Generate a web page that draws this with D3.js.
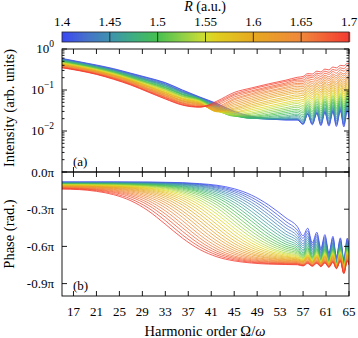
<!DOCTYPE html>
<html><head><meta charset="utf-8">
<script src="https://cdn.jsdelivr.net/npm/d3@7"></script>
<style>
html,body{margin:0;padding:0;background:#fff;}
svg{display:block;}
svg text{font-family:"Liberation Serif","Times New Roman",serif;}
</style></head><body>
<svg id="c" width="358" height="338"></svg>
<script>
// R values (one curve each)
const rValues = [1.40,1.41,1.42,1.43,1.44,1.45,1.46,1.47,1.48,1.49,1.50,1.51,1.52,1.53,1.54,1.55,1.56,1.57,1.58,1.59,1.60,1.61,1.62,1.63,1.64,1.65,1.66,1.67,1.68,1.69,1.70];
// harmonic orders sampled
const harmonics = [15,18,21,24,27,30,33,36,39,42,45,48,51,54,56,57,57.8,58.6,59.4,60.1,60.8,61.5,62.2,62.8,63.5,64.1,64.7,65];
// log10 intensity: one row per harmonic, one column per R
const logIntensity = [
[-.23,-.24,-.25,-.25,-.26,-.27,-.28,-.28,-.29,-.30,-.31,-.31,-.32,-.33,-.34,-.35,-.35,-.36,-.37,-.38,-.38,-.39,-.40,-.41,-.41,-.42,-.43,-.44,-.45,-.45,-.46],
[-.31,-.32,-.32,-.33,-.34,-.35,-.35,-.36,-.37,-.38,-.38,-.39,-.40,-.41,-.41,-.42,-.43,-.43,-.44,-.45,-.46,-.46,-.47,-.48,-.49,-.49,-.50,-.51,-.52,-.52,-.53],
[-.39,-.40,-.41,-.41,-.42,-.43,-.44,-.44,-.45,-.46,-.47,-.47,-.48,-.49,-.50,-.51,-.51,-.52,-.53,-.54,-.54,-.55,-.56,-.57,-.57,-.58,-.59,-.60,-.61,-.61,-.62],
[-.48,-.49,-.50,-.51,-.51,-.52,-.53,-.54,-.55,-.56,-.57,-.58,-.58,-.59,-.60,-.61,-.62,-.63,-.64,-.64,-.65,-.66,-.67,-.68,-.69,-.70,-.70,-.71,-.72,-.73,-.74],
[-.59,-.60,-.61,-.62,-.63,-.64,-.65,-.66,-.67,-.68,-.69,-.70,-.71,-.72,-.73,-.74,-.75,-.75,-.76,-.77,-.78,-.79,-.80,-.81,-.82,-.83,-.84,-.85,-.86,-.87,-.88],
[-.70,-.71,-.72,-.74,-.75,-.76,-.77,-.78,-.79,-.81,-.82,-.83,-.84,-.85,-.86,-.88,-.89,-.90,-.91,-.92,-.93,-.95,-.96,-.97,-.98,-.99,-1.00,-1.02,-1.03,-1.04,-1.05],
[-.82,-.83,-.85,-.86,-.87,-.89,-.90,-.91,-.93,-.94,-.95,-.97,-.98,-.99,-1.01,-1.02,-1.03,-1.05,-1.06,-1.07,-1.09,-1.10,-1.11,-1.13,-1.14,-1.15,-1.17,-1.18,-1.19,-1.21,-1.22],
[-1.00,-1.01,-1.03,-1.04,-1.05,-1.06,-1.07,-1.09,-1.10,-1.11,-1.12,-1.14,-1.15,-1.16,-1.17,-1.19,-1.20,-1.21,-1.22,-1.23,-1.25,-1.26,-1.27,-1.28,-1.30,-1.31,-1.32,-1.33,-1.35,-1.36,-1.37],
[-1.17,-1.18,-1.18,-1.19,-1.20,-1.20,-1.21,-1.22,-1.22,-1.23,-1.24,-1.24,-1.25,-1.26,-1.27,-1.28,-1.29,-1.30,-1.31,-1.32,-1.33,-1.34,-1.35,-1.36,-1.37,-1.38,-1.39,-1.40,-1.41,-1.41,-1.42],
[-1.33,-1.34,-1.36,-1.37,-1.38,-1.40,-1.41,-1.42,-1.44,-1.45,-1.46,-1.48,-1.49,-1.50,-1.51,-1.52,-1.52,-1.53,-1.53,-1.52,-1.51,-1.50,-1.48,-1.46,-1.44,-1.42,-1.39,-1.36,-1.33,-1.30,-1.27],
[-1.52,-1.53,-1.55,-1.56,-1.57,-1.59,-1.60,-1.61,-1.62,-1.63,-1.63,-1.64,-1.63,-1.62,-1.60,-1.58,-1.55,-1.53,-1.50,-1.47,-1.44,-1.40,-1.36,-1.32,-1.28,-1.24,-1.21,-1.17,-1.13,-1.10,-1.06],
[-1.64,-1.65,-1.66,-1.67,-1.68,-1.68,-1.69,-1.69,-1.69,-1.68,-1.66,-1.64,-1.62,-1.59,-1.56,-1.52,-1.48,-1.44,-1.40,-1.36,-1.32,-1.28,-1.24,-1.20,-1.16,-1.12,-1.09,-1.05,-1.02,-.98,-.95],
[-1.70,-1.70,-1.71,-1.71,-1.71,-1.70,-1.70,-1.69,-1.67,-1.65,-1.62,-1.59,-1.55,-1.51,-1.47,-1.43,-1.39,-1.34,-1.30,-1.26,-1.21,-1.17,-1.13,-1.09,-1.05,-1.02,-.98,-.95,-.92,-.88,-.85],
[-1.73,-1.73,-1.72,-1.72,-1.71,-1.70,-1.68,-1.66,-1.63,-1.59,-1.55,-1.51,-1.47,-1.43,-1.38,-1.34,-1.30,-1.25,-1.21,-1.17,-1.12,-1.08,-1.04,-1.00,-.96,-.93,-.89,-.86,-.83,-.79,-.76],
[-1.73,-1.73,-1.72,-1.71,-1.70,-1.68,-1.65,-1.62,-1.59,-1.55,-1.51,-1.47,-1.42,-1.38,-1.33,-1.29,-1.25,-1.20,-1.16,-1.12,-1.07,-1.03,-.99,-.95,-.91,-.87,-.84,-.80,-.76,-.73,-.69],
[-1.84,-1.83,-1.82,-1.81,-1.78,-1.76,-1.73,-1.69,-1.65,-1.61,-1.56,-1.52,-1.47,-1.42,-1.38,-1.33,-1.28,-1.24,-1.19,-1.14,-1.10,-1.05,-1.01,-.96,-.92,-.88,-.84,-.80,-.76,-.71,-.67],
[-1.59,-1.59,-1.58,-1.58,-1.56,-1.53,-1.51,-1.48,-1.45,-1.42,-1.38,-1.35,-1.31,-1.27,-1.23,-1.19,-1.15,-1.11,-1.07,-1.03,-.99,-.95,-.91,-.88,-.84,-.80,-.76,-.72,-.68,-.64,-.60],
[-1.85,-1.83,-1.82,-1.80,-1.77,-1.74,-1.71,-1.67,-1.63,-1.59,-1.54,-1.50,-1.45,-1.40,-1.35,-1.30,-1.25,-1.21,-1.16,-1.11,-1.07,-1.02,-.98,-.93,-.89,-.84,-.80,-.75,-.70,-.66,-.61],
[-1.57,-1.56,-1.55,-1.54,-1.52,-1.49,-1.47,-1.44,-1.41,-1.38,-1.34,-1.30,-1.26,-1.22,-1.18,-1.14,-1.10,-1.07,-1.03,-.99,-.95,-.91,-.87,-.84,-.80,-.76,-.72,-.68,-.63,-.59,-.54],
[-1.87,-1.85,-1.82,-1.80,-1.76,-1.73,-1.69,-1.65,-1.61,-1.57,-1.52,-1.47,-1.42,-1.37,-1.33,-1.28,-1.23,-1.18,-1.13,-1.08,-1.04,-.99,-.94,-.90,-.85,-.81,-.76,-.72,-.67,-.61,-.56],
[-1.55,-1.54,-1.52,-1.51,-1.48,-1.46,-1.43,-1.40,-1.36,-1.33,-1.29,-1.26,-1.22,-1.18,-1.15,-1.11,-1.07,-1.03,-.99,-.95,-.91,-.87,-.83,-.80,-.76,-.72,-.68,-.64,-.59,-.54,-.49],
[-1.88,-1.85,-1.83,-1.80,-1.76,-1.72,-1.68,-1.63,-1.59,-1.54,-1.49,-1.45,-1.40,-1.35,-1.30,-1.25,-1.20,-1.15,-1.10,-1.05,-1.01,-.96,-.91,-.87,-.82,-.77,-.73,-.68,-.62,-.57,-.51],
[-1.53,-1.51,-1.50,-1.48,-1.45,-1.42,-1.39,-1.36,-1.32,-1.29,-1.25,-1.22,-1.18,-1.14,-1.11,-1.07,-1.03,-1.00,-.96,-.92,-.88,-.84,-.80,-.77,-.73,-.69,-.65,-.61,-.55,-.50,-.44],
[-1.89,-1.86,-1.82,-1.79,-1.75,-1.70,-1.66,-1.61,-1.57,-1.52,-1.47,-1.43,-1.38,-1.33,-1.28,-1.23,-1.18,-1.13,-1.08,-1.03,-.98,-.93,-.88,-.84,-.79,-.74,-.70,-.65,-.59,-.52,-.46],
[-1.51,-1.49,-1.47,-1.45,-1.42,-1.39,-1.36,-1.33,-1.29,-1.26,-1.22,-1.18,-1.14,-1.10,-1.07,-1.03,-.99,-.96,-.92,-.88,-.85,-.81,-.77,-.74,-.70,-.66,-.61,-.57,-.51,-.46,-.40],
[-1.90,-1.86,-1.83,-1.79,-1.74,-1.70,-1.65,-1.60,-1.55,-1.50,-1.45,-1.40,-1.35,-1.30,-1.25,-1.20,-1.15,-1.10,-1.05,-1.00,-.96,-.91,-.86,-.81,-.76,-.71,-.66,-.61,-.54,-.48,-.41],
[-1.50,-1.47,-1.45,-1.42,-1.39,-1.36,-1.33,-1.29,-1.26,-1.22,-1.18,-1.15,-1.11,-1.07,-1.04,-1.00,-.96,-.93,-.89,-.85,-.82,-.78,-.74,-.71,-.67,-.63,-.58,-.54,-.48,-.41,-.35],
[-1.70,-1.67,-1.63,-1.60,-1.56,-1.52,-1.48,-1.44,-1.39,-1.35,-1.31,-1.26,-1.22,-1.18,-1.13,-1.09,-1.05,-1.00,-.96,-.92,-.87,-.83,-.79,-.74,-.70,-.65,-.61,-.56,-.49,-.43,-.36]
];
// phase in units of pi: one row per harmonic, one column per R
const phasePi = [
[-.080,-.082,-.083,-.085,-.087,-.088,-.090,-.092,-.093,-.095,-.097,-.098,-.100,-.102,-.103,-.105,-.107,-.108,-.110,-.112,-.114,-.116,-.118,-.120,-.122,-.124,-.126,-.128,-.131,-.134,-.138],
[-.080,-.082,-.083,-.085,-.087,-.088,-.090,-.092,-.093,-.095,-.097,-.098,-.100,-.102,-.104,-.105,-.107,-.109,-.111,-.113,-.115,-.117,-.119,-.122,-.124,-.127,-.129,-.132,-.135,-.138,-.142],
[-.080,-.082,-.083,-.085,-.087,-.088,-.090,-.092,-.094,-.095,-.097,-.099,-.101,-.103,-.105,-.107,-.109,-.111,-.113,-.116,-.118,-.120,-.123,-.126,-.130,-.133,-.137,-.141,-.145,-.150,-.156],
[-.080,-.082,-.083,-.085,-.087,-.088,-.090,-.092,-.094,-.096,-.099,-.100,-.102,-.104,-.107,-.109,-.112,-.114,-.117,-.120,-.124,-.127,-.131,-.135,-.140,-.145,-.151,-.158,-.165,-.174,-.183],
[-.081,-.082,-.084,-.086,-.088,-.090,-.092,-.094,-.096,-.098,-.101,-.103,-.106,-.108,-.111,-.114,-.118,-.121,-.125,-.129,-.134,-.140,-.146,-.153,-.161,-.170,-.179,-.190,-.202,-.217,-.232],
[-.081,-.083,-.085,-.087,-.090,-.092,-.094,-.097,-.099,-.102,-.105,-.108,-.111,-.115,-.120,-.124,-.129,-.134,-.141,-.148,-.156,-.165,-.175,-.187,-.200,-.214,-.230,-.248,-.267,-.289,-.312],
[-.083,-.085,-.088,-.090,-.093,-.095,-.099,-.102,-.105,-.109,-.113,-.118,-.123,-.129,-.136,-.144,-.152,-.162,-.172,-.184,-.197,-.212,-.229,-.247,-.267,-.289,-.313,-.338,-.364,-.392,-.421],
[-.086,-.089,-.092,-.096,-.099,-.103,-.108,-.113,-.118,-.124,-.131,-.139,-.148,-.158,-.169,-.181,-.195,-.211,-.228,-.247,-.267,-.290,-.314,-.338,-.365,-.393,-.422,-.450,-.479,-.508,-.534],
[-.094,-.098,-.102,-.107,-.113,-.119,-.127,-.135,-.144,-.154,-.165,-.178,-.192,-.209,-.227,-.246,-.267,-.290,-.314,-.340,-.367,-.394,-.423,-.451,-.479,-.507,-.533,-.558,-.582,-.604,-.625],
[-.107,-.114,-.122,-.130,-.140,-.150,-.162,-.176,-.190,-.206,-.225,-.245,-.266,-.289,-.315,-.340,-.367,-.395,-.424,-.451,-.479,-.506,-.531,-.556,-.579,-.601,-.621,-.639,-.655,-.670,-.684],
[-.135,-.147,-.159,-.173,-.189,-.206,-.224,-.245,-.267,-.290,-.316,-.342,-.369,-.397,-.424,-.452,-.478,-.505,-.530,-.554,-.576,-.597,-.616,-.633,-.649,-.663,-.677,-.688,-.698,-.708,-.717],
[-.186,-.204,-.223,-.244,-.266,-.291,-.317,-.343,-.370,-.396,-.424,-.452,-.478,-.504,-.528,-.551,-.572,-.592,-.610,-.627,-.642,-.656,-.668,-.680,-.690,-.699,-.707,-.715,-.722,-.728,-.734],
[-.266,-.290,-.316,-.343,-.369,-.397,-.424,-.451,-.478,-.502,-.526,-.548,-.568,-.587,-.605,-.620,-.635,-.648,-.660,-.671,-.681,-.690,-.697,-.705,-.711,-.717,-.723,-.728,-.734,-.738,-.743],
[-.370,-.399,-.426,-.451,-.477,-.501,-.523,-.545,-.564,-.582,-.599,-.614,-.628,-.641,-.653,-.662,-.671,-.680,-.687,-.694,-.701,-.707,-.712,-.717,-.722,-.726,-.731,-.735,-.739,-.743,-.746],
[-.441,-.469,-.492,-.515,-.536,-.555,-.573,-.590,-.605,-.619,-.631,-.642,-.653,-.662,-.671,-.678,-.685,-.692,-.698,-.703,-.708,-.713,-.718,-.722,-.726,-.730,-.734,-.737,-.741,-.744,-.748],
[-.514,-.535,-.557,-.578,-.594,-.611,-.627,-.639,-.651,-.663,-.671,-.679,-.687,-.693,-.700,-.706,-.710,-.714,-.718,-.721,-.724,-.727,-.732,-.736,-.741,-.744,-.747,-.750,-.753,-.755,-.758],
[-.453,-.474,-.496,-.517,-.534,-.551,-.568,-.582,-.595,-.609,-.618,-.628,-.637,-.646,-.654,-.663,-.669,-.674,-.680,-.685,-.690,-.695,-.701,-.708,-.714,-.718,-.722,-.726,-.730,-.734,-.738],
[-.571,-.587,-.602,-.618,-.630,-.643,-.655,-.664,-.674,-.683,-.689,-.695,-.701,-.706,-.712,-.717,-.720,-.722,-.725,-.728,-.730,-.733,-.737,-.741,-.745,-.748,-.750,-.753,-.755,-.758,-.760],
[-.486,-.504,-.521,-.539,-.553,-.566,-.580,-.592,-.603,-.615,-.623,-.631,-.639,-.647,-.654,-.662,-.668,-.673,-.679,-.684,-.688,-.693,-.699,-.706,-.712,-.716,-.721,-.725,-.729,-.733,-.737],
[-.616,-.629,-.641,-.654,-.663,-.673,-.682,-.689,-.696,-.703,-.707,-.711,-.715,-.719,-.724,-.728,-.730,-.732,-.734,-.736,-.738,-.740,-.743,-.747,-.750,-.752,-.754,-.756,-.759,-.761,-.764],
[-.505,-.521,-.536,-.552,-.564,-.576,-.588,-.598,-.608,-.618,-.625,-.632,-.639,-.646,-.653,-.660,-.665,-.671,-.676,-.681,-.685,-.690,-.697,-.703,-.710,-.714,-.718,-.722,-.726,-.730,-.734],
[-.653,-.663,-.673,-.683,-.690,-.698,-.705,-.710,-.716,-.721,-.723,-.726,-.728,-.732,-.735,-.739,-.740,-.742,-.743,-.745,-.746,-.748,-.751,-.754,-.757,-.759,-.761,-.763,-.765,-.767,-.769],
[-.519,-.533,-.548,-.562,-.572,-.582,-.592,-.600,-.609,-.617,-.623,-.629,-.635,-.642,-.649,-.656,-.661,-.667,-.672,-.677,-.681,-.686,-.692,-.698,-.704,-.708,-.713,-.717,-.721,-.725,-.729],
[-.682,-.691,-.701,-.710,-.715,-.720,-.725,-.729,-.732,-.736,-.738,-.740,-.742,-.745,-.748,-.751,-.752,-.753,-.754,-.756,-.757,-.759,-.762,-.764,-.767,-.769,-.771,-.773,-.775,-.778,-.780],
[-.531,-.543,-.556,-.568,-.576,-.585,-.593,-.600,-.607,-.614,-.620,-.625,-.631,-.637,-.643,-.649,-.654,-.660,-.665,-.669,-.673,-.677,-.683,-.690,-.696,-.700,-.704,-.708,-.712,-.716,-.720],
[-.707,-.716,-.724,-.733,-.738,-.744,-.749,-.753,-.756,-.760,-.763,-.765,-.768,-.772,-.775,-.779,-.781,-.784,-.786,-.788,-.791,-.793,-.797,-.800,-.804,-.807,-.809,-.812,-.815,-.817,-.820],
[-.533,-.544,-.556,-.567,-.575,-.582,-.590,-.597,-.603,-.610,-.616,-.622,-.628,-.634,-.641,-.647,-.652,-.658,-.663,-.667,-.672,-.676,-.682,-.689,-.695,-.699,-.704,-.708,-.712,-.716,-.720],
[-.625,-.633,-.642,-.650,-.655,-.661,-.666,-.670,-.675,-.679,-.683,-.686,-.690,-.694,-.698,-.702,-.705,-.708,-.711,-.714,-.716,-.719,-.723,-.728,-.732,-.735,-.738,-.741,-.744,-.747,-.750]
];
const xTicks = [17,21,25,29,33,37,41,45,49,53,57,61,65];
const cbTicks = [1.4,1.45,1.5,1.55,1.6,1.65,1.7];
const cbTickLabels = ["1.4","1.45","1.5","1.55","1.6","1.65","1.7"];
const intTicks = [1,0.1,0.01];
const intTickExp = ["0","\u22121","\u22122"];
const phaseTicks = [0,-0.3,-0.6,-0.9];
const phaseTickLabels = ["0.0\u03c0","-0.3\u03c0","-0.6\u03c0","-0.9\u03c0"];
const cmapR = [1.40,1.425,1.45,1.475,1.50,1.525,1.55,1.56,1.60,1.65,1.70];
const cmapC = ["#3a46f4","#4670cc","#3e92ae","#3eae82","#46c04e","#8ccf48","#d2de30","#e0d020","#e6a820","#f0883c","#f43a30"];

const FONT = "Liberation Serif, Times New Roman, serif";
const svg = d3.select("#c");
const X0 = 62, X1 = 349;
const A0 = 49, A1 = 172, B0 = 172, B1 = 296;
const x = d3.scaleLinear().domain([15,65]).range([X0,X1]);
const yA = d3.scaleLog().domain([1e-3,1]).range([A1,A0]);
const yB = d3.scaleLinear().domain([-1,0]).range([B1,B0]);
const color = d3.scaleLinear().domain(cmapR).range(cmapC).interpolate(d3.interpolateRgb);
const cbx = d3.scaleLinear().domain([1.4,1.7]).range([X0,X1]);

const defs = svg.append("defs");
defs.append("clipPath").attr("id","ca").append("rect").attr("x",X0).attr("y",A0).attr("width",X1-X0).attr("height",A1-A0);
defs.append("clipPath").attr("id","cb").append("rect").attr("x",X0).attr("y",B0).attr("width",X1-X0).attr("height",B1-B0);

// colorbar
const cb = svg.append("g");
const cbSteps = d3.range(0, 288);
cb.selectAll("rect.s").data(cbSteps).join("rect").attr("class","s")
  .attr("x", i => X0 + i).attr("y", 32).attr("width", 1.2).attr("height", 10)
  .attr("fill", i => color(cbx.invert(X0 + i + 0.5)));
cb.selectAll("line.t").data(cbTicks.slice(1,-1)).join("line").attr("class","t")
  .attr("x1", d => cbx(d)).attr("x2", d => cbx(d)).attr("y1", 32).attr("y2", 42)
  .attr("stroke", "#222").attr("stroke-width", 0.9);
cb.append("rect").attr("x",X0).attr("y",32).attr("width",X1-X0).attr("height",10)
  .attr("fill","none").attr("stroke","#222").attr("stroke-width",0.8);
cb.selectAll("text").data(cbTicks).join("text")
  .attr("x", d => cbx(d)).attr("y", 26).attr("text-anchor","middle")
  .attr("font-family", FONT).attr("font-size", 13).text((d,i) => cbTickLabels[i]);
const rt = svg.append("text").attr("x", 205).attr("y", 11).attr("text-anchor","middle")
  .attr("font-family", FONT).attr("font-size",14);
rt.append("tspan").attr("font-style","italic").text("R");
rt.append("tspan").text(" (a.u.)");

// curves
const lineA = d3.line().x(d => x(d.h)).y(d => yA(Math.pow(10, d.v))).curve(d3.curveMonotoneX);
const lineB = d3.line().x(d => x(d.h)).y(d => yB(d.v)).curve(d3.curveMonotoneX);
const seriesA = rValues.map((r,k) => ({r, pts: harmonics.map((h,i) => ({h, v: logIntensity[i][k]}))}));
const seriesB = rValues.map((r,k) => ({r, pts: harmonics.map((h,i) => ({h, v: phasePi[i][k]}))}));
svg.append("g").attr("clip-path","url(#ca)").selectAll("path").data(seriesA).join("path")
  .attr("d", s => lineA(s.pts)).attr("fill","none").attr("stroke", s => color(s.r)).attr("stroke-width",0.8);
svg.append("g").attr("clip-path","url(#cb)").selectAll("path").data(seriesB).join("path")
  .attr("d", s => lineB(s.pts)).attr("fill","none").attr("stroke", s => color(s.r)).attr("stroke-width",0.8);

// frames and ticks
const ax = svg.append("g").attr("stroke","#000").attr("stroke-width",0.9).attr("fill","none");
ax.append("rect").attr("x",X0).attr("y",A0).attr("width",X1-X0).attr("height",A1-A0);
ax.append("rect").attr("x",X0).attr("y",B0).attr("width",X1-X0).attr("height",B1-B0);
[[A0,A1],[B0,B1]].forEach(([t,b]) => {
  xTicks.forEach(v => {
    ax.append("line").attr("x1",x(v)).attr("x2",x(v)).attr("y1",b).attr("y2",b-5);
    ax.append("line").attr("x1",x(v)).attr("x2",x(v)).attr("y1",t).attr("y2",t+5);
  });
});
const minorA = [];
[-3,-2,-1].forEach(e => { for (let m=2;m<=9;m++) minorA.push(m*Math.pow(10,e)); });
intTicks.forEach(v => {
  ax.append("line").attr("x1",X0).attr("x2",X0+5).attr("y1",yA(v)).attr("y2",yA(v));
  ax.append("line").attr("x1",X1).attr("x2",X1-5).attr("y1",yA(v)).attr("y2",yA(v));
});
minorA.forEach(v => {
  ax.append("line").attr("x1",X0).attr("x2",X0+2.5).attr("y1",yA(v)).attr("y2",yA(v));
  ax.append("line").attr("x1",X1).attr("x2",X1-2.5).attr("y1",yA(v)).attr("y2",yA(v));
});
phaseTicks.forEach(v => {
  ax.append("line").attr("x1",X0).attr("x2",X0+5).attr("y1",yB(v)).attr("y2",yB(v));
  ax.append("line").attr("x1",X1).attr("x2",X1-5).attr("y1",yB(v)).attr("y2",yB(v));
});

// tick labels
const tl = svg.append("g").attr("font-size",13).attr("font-family",FONT).attr("fill","#000");
intTicks.forEach((v,i) => {
  const t = tl.append("text").attr("x",54).attr("y",yA(v)+4).attr("text-anchor","end");
  t.append("tspan").text("10");
  t.append("tspan").attr("dy",-6).attr("font-size",9.5).text(intTickExp[i]);
});
phaseTicks.forEach((v,i) => {
  tl.append("text").attr("x",54).attr("y",yB(v)+4.5).attr("text-anchor","end").text(phaseTickLabels[i]);
});
xTicks.forEach(v => {
  tl.append("text").attr("x",x(v)).attr("y",316).attr("text-anchor","middle").text(v);
});
tl.append("text").attr("x",73).attr("y",166).text("(a)");
tl.append("text").attr("x",73).attr("y",290).text("(b)");

// axis titles
svg.append("text").attr("transform","translate(14,108) rotate(-90)").attr("text-anchor","middle")
  .attr("font-family",FONT).attr("font-size",14.5).text("Intensity (arb. units)");
svg.append("text").attr("transform","translate(14,234) rotate(-90)").attr("text-anchor","middle")
  .attr("font-family",FONT).attr("font-size",14.5).text("Phase (rad.)");
const xt = svg.append("text").attr("x",205).attr("y",336).attr("text-anchor","middle")
  .attr("font-family",FONT).attr("font-size",14.5);
xt.append("tspan").text("Harmonic order \u03a9/");
xt.append("tspan").attr("font-style","italic").text("\u03c9");
</script>
</body></html>
